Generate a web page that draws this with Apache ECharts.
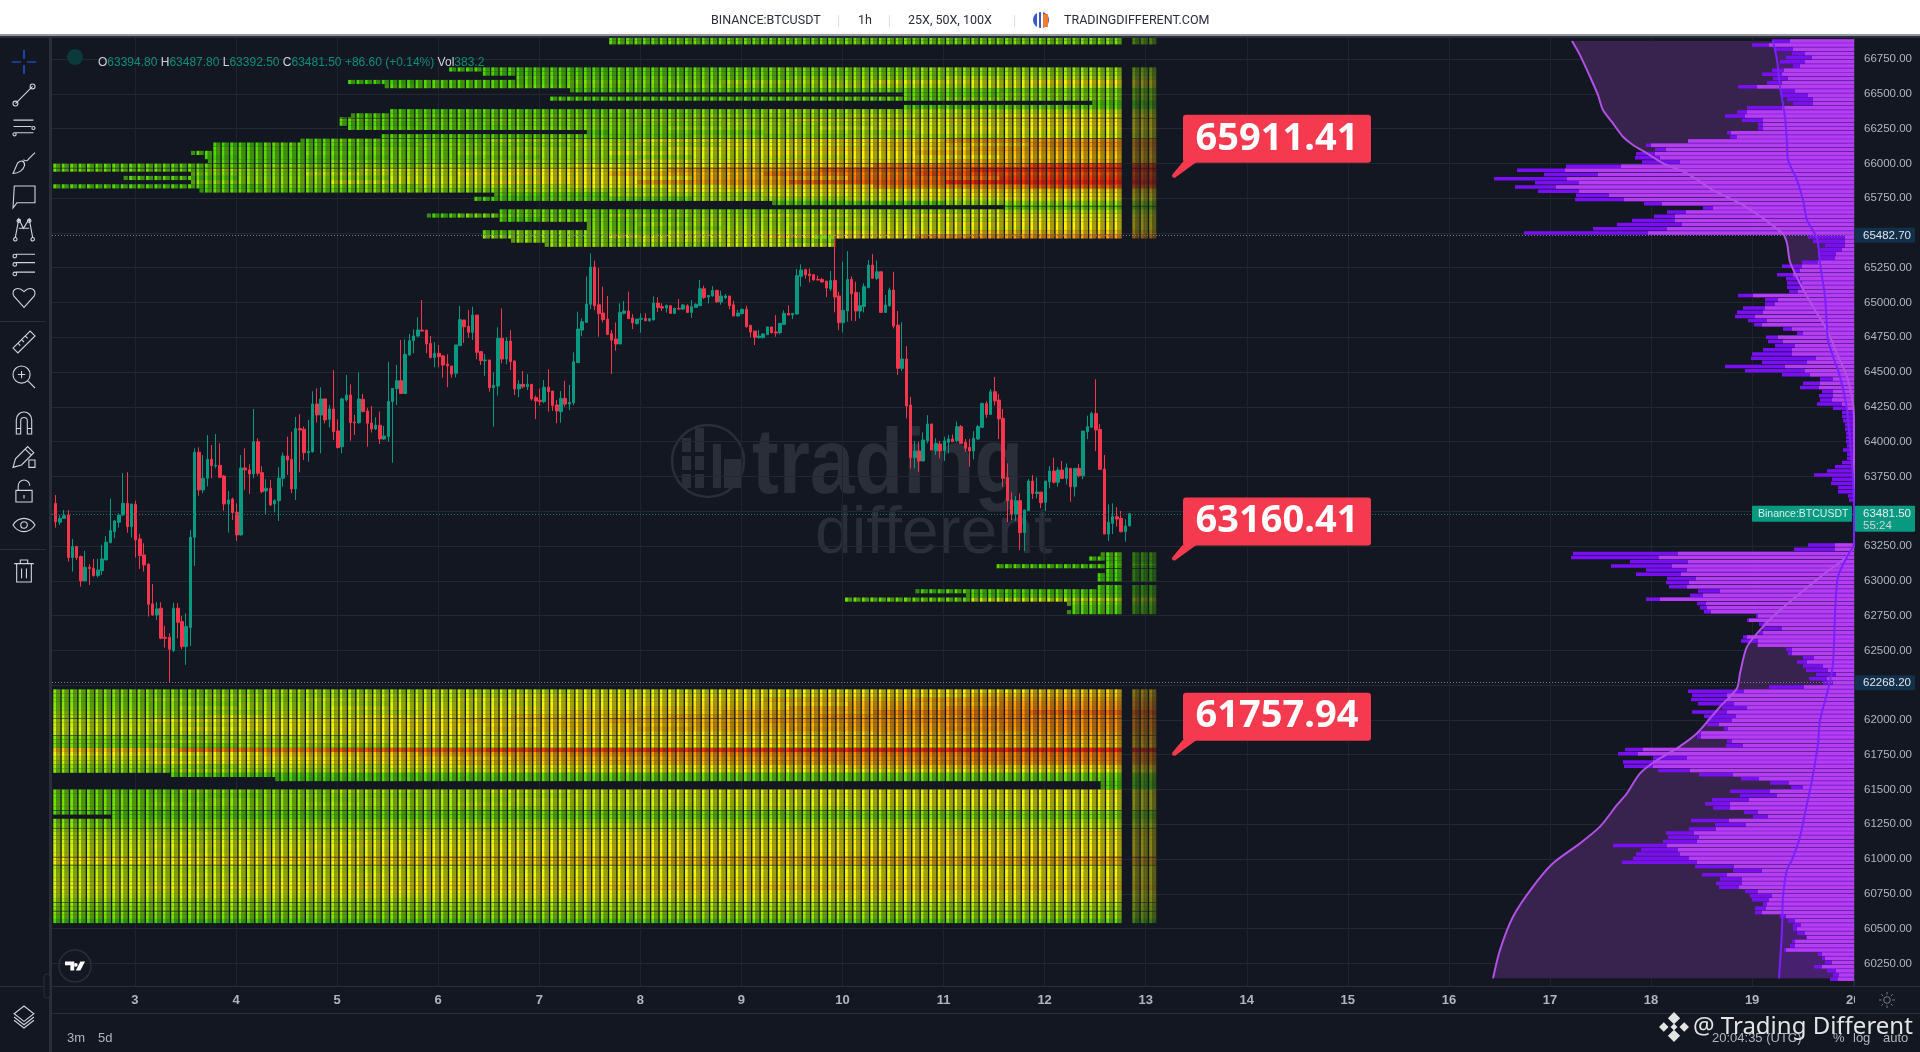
<!DOCTYPE html>
<html><head><meta charset="utf-8"><style>html,body{margin:0;padding:0;background:#131722;overflow:hidden}#c{width:1920px;height:1052px}</style>
<script src="https://cdn.jsdelivr.net/npm/echarts@6/dist/echarts.min.js"></script></head><body><div id="c"></div><script>
const firstBarDay=2.2154;
// hourly candles: [open, close, low, high]
const candles=[[63557,63425,63382,63617],[63421,63449,63401,63473],[63449,63468,63447,63509],[63473,63167,63138,63509],[63167,63246,63066,63301],[63246,63167,63150,63251],[63174,62999,62958,63181],[62999,63097,62999,63215],[63097,63088,62970,63119],[63090,63037,63030,63157],[63037,63078,63025,63157],[63073,63157,63042,63258],[63150,63277,63150,63322],[63274,63361,63270,63591],[63354,63430,63306,63437],[63421,63473,63382,63485],[63473,63557,63466,63773],[63557,63389,63346,63780],[63389,63552,63310,63552],[63550,63294,63167,63576],
[63301,63181,63085,63337],[63186,63114,63066,63270],[63119,62831,62743,63126],[62834,62755,62748,62978],[62755,62798,62719,62846],[62803,62587,62580,62846],[62594,62587,62520,62676],[62594,62508,62269,62623],[62499,62803,62487,62843],[62803,62702,62587,62839],[62707,62527,62508,62748],[62527,62671,62396,62767],[62664,63313,62532,63365],[63313,63924,63107,63952],[63924,63653,63612,63959],[63653,63737,63629,63904],[63737,63873,63677,64048],[63873,63828,63737,63976],[63825,63830,63809,64055],[63830,63744,63737,63988],
[63753,63552,63504,63761],[63552,63581,63346,63646],[63588,63490,63437,63598],[63492,63330,63286,63557],[63330,63811,63325,63904],[63811,63797,63653,63952],[63797,63768,63624,63837],[63768,64000,63737,64235],[64000,63773,63756,64024],[63777,63641,63629,63825],[63646,63665,63478,63730],[63665,63545,63538,63725],[63552,63576,63492,63586],[63576,63737,63430,63816],[63737,63897,63677,63921],[63897,63868,63761,64036],[63873,63660,63629,64072],[63660,64094,63581,64177],[64094,64084,63780,64197],[64089,63921,63868,64108],
[63921,63931,63856,64156],[63928,64271,63921,64362],[64271,64192,64137,64383],[64192,64307,63916,64391],[64307,64156,64132,64312],[64161,64235,64103,64264],[64235,64072,64012,64515],[64077,63957,63952,64161],[63964,64307,63916,64316],[64300,64335,64288,64479],[64335,64137,64007,64412],[64141,64134,64048,64192],[64137,64307,64127,64498],[64304,64216,64211,64343],[64221,64132,63964,64244],[64134,64091,64065,64256],[64091,64118,64084,64175],[64118,64019,63983,64216],[64019,64041,64012,64113],[64036,64288,64000,64573],
[64288,64383,63849,64383],[64381,64438,64264,64551],[64438,64347,64343,64731],[64347,64628,64343,64735],[64623,64726,64618,64774],[64726,64759,64635,64807],[64759,64802,64750,64894],[64802,64795,64791,65018],[64802,64702,64635,64802],[64707,64604,64599,64759],[64604,64635,64534,64716],[64635,64611,64534,64695],[64616,64551,64460,64623],[64558,64544,64391,64628],[64544,64486,64460,64544],[64491,64695,64462,64695],[64690,64877,64690,64975],[64874,64826,64711,64874],[64829,64786,64747,64946],[64786,64910,64731,64970],
[64910,64642,64592,64910],[64647,64582,64551,64652],[64582,64587,64472,64630],[64587,64388,64359,64587],[64388,64405,64108,64498],[64400,64743,64331,64822],[64743,64594,64563,64958],[64594,64723,64556,64750],[64723,64575,64515,64802],[64580,64379,64335,64582],[64379,64412,64319,64443],[64412,64395,64383,64508],[64395,64412,64371,64486],[64412,64307,64295,64414],[64316,64292,64163,64331],[64297,64288,64259,64383],[64288,64391,64276,64443],[64391,64359,64216,64520],[64364,64259,64221,64364],[64264,64221,64132,64300],
[64215,64311,64136,64364],[64311,64270,64251,64438],[64270,64282,64227,64407],[64280,64575,64263,64642],[64568,64809,64568,64934],[64802,64862,64759,64886],[64857,64989,64857,65188],[64987,65255,64953,65353],[65255,64977,64946,65301],[64984,64920,64754,65248],[64924,64877,64857,65114],[64881,64771,64766,65047],[64776,64730,64486,64802],[64738,64702,64654,64857],[64702,64929,64702,64994],[64922,64939,64915,65011],[64939,64884,64884,65078],[64889,64855,64809,64917],[64848,64881,64843,64881],[64879,64886,64783,64922],
[64886,64869,64867,64922],[64869,64884,64862,64886],[64874,64996,64874,65044],[64996,64965,64932,65039],[64970,64960,64939,64994],[64960,64980,64927,64984],[64977,64922,64922,64977],[64922,64958,64917,64963],[64958,64953,64948,65025],[64953,64982,64948,64989],[64977,64929,64924,64987],[64929,64970,64891,65018],[64965,64987,64963,64994],[64977,65099,64977,65162],[65099,65037,65025,65121],[65039,65051,64994,65054],[65047,65087,65042,65118],[65087,65004,64999,65092],[65004,65047,64984,65085],[65035,65047,65025,65061],
[65047,64977,64951,65047],[64984,64903,64903,65013],[64903,64924,64900,64948],[64920,64951,64915,64958],[64951,64826,64819,64977],[64836,64788,64750,64836],[64795,64750,64694,64795],[64747,64759,64742,64802],[64747,64774,64742,64778],[64769,64824,64766,64826],[64824,64783,64778,64826],[64788,64781,64754,64910],[64783,64850,64771,64850],[64843,64922,64838,64944],[64922,64910,64910,64980],[64910,64922,64881,64924],[64917,65193,64915,65241],[65188,65233,65114,65274],[65236,65198,65171,65243],[65205,65193,65145,65245],
[65200,65162,65157,65205],[65166,65162,65157,65193],[65166,65147,65145,65178],[65154,65104,65039,65154],[65099,65159,65083,65226],[65159,65039,64929,65478],[65047,64855,64802,65078],[64855,64944,64785,65293],[64939,65166,64862,65370],[65166,65063,64869,65188],[65073,64939,64867,65150],[64939,64977,64886,65073],[64972,65114,64929,65138],[65107,65269,65102,65305],[65269,65174,65169,65348],[65174,65221,65162,65301],[65221,64929,64929,65221],[64929,64982,64929,65054],[64977,65090,64970,65107],[65090,64831,64814,65221],
[64838,64527,64479,64939],[64527,64594,64508,64857],[64594,64256,64167,64687],[64263,63885,63808,64323],[63885,63933,63808,64005],[63933,63861,63784,64000],[63861,64012,63861,64067],[64007,64127,63988,64191],[64127,63940,63940,64127],[63935,63988,63904,64024],[63983,63933,63880,64005],[63935,64005,63861,64036],[63995,64019,63916,64048],[64019,64000,64000,64052],[64007,64108,63995,64144],[64108,63988,63988,64120],[63995,63952,63928,64019],[63959,63933,63820,64019],[63933,64024,63873,64076],[64019,64108,64012,64120],
[64103,64275,64103,64280],[64275,64196,64172,64292],[64196,64359,64191,64378],[64359,64292,64259,64465],[64299,64163,64019,64342],[64167,63736,63676,64235],[63743,63576,63420,63844],[63581,63480,63437,63636],[63478,63576,63430,63609],[63576,63346,63221,63628],[63346,63509,63214,63509],[63504,63717,63502,63731],[63717,63628,63588,63760],[63628,63638,63593,63743],[63638,63561,63521,63638],[63564,63717,63502,63717],[63712,63789,63664,63825],[63789,63708,63700,63885],[63708,63796,63676,63815],[63796,63736,63731,63861],
[63736,63813,63693,63844],[63808,63676,63569,63808],[63676,63808,63605,63808],[63808,63755,63743,63839],[63755,64076,63731,64076],[64072,64108,64019,64187],[64103,64203,64100,64215],[64203,64084,63933,64448],[64088,63801,63796,64127],[63803,63336,63336,63904],[63336,63420,63286,63549],[63413,63461,63336,63557],[63461,63444,63389,63530],[63449,63353,63348,63502],[63353,63394,63281,63442],[63394.8,63481.5,63392.5,63487.8]];

// liquidation heat rows: [price level, first day, last day, strength in seven stretches of the time span]
const heatRows=[
[66900,7.70,12.77,0,0,0,10,12,14,16],[66870,7.70,12.77,0,0,0,12,14,16,18],
[66675,6.13,12.77,0,0,5,8,12,18,24],[66645,6.45,12.77,0,0,6,10,14,20,26],[66615,6.77,12.77,0,0,8,12,16,24,34],[66585,5.12,12.77,0,5,10,18,30,42,54],[66555,5.49,12.77,0,5,10,15,24,32,40],[66525,7.31,12.77,0,0,5,8,10,12,15],[66495,10.60,12.77,0,0,0,0,0,12,22],[66465,7.12,12.77,0,0,5,8,10,14,22],[66435,12.48,12.77,0,0,0,0,0,0,8],[66405,10.61,12.77,0,0,0,0,0,8,12],[66375,5.53,12.77,0,5,8,12,18,26,35],[66345,5.16,12.77,0,8,12,16,24,34,45],[66315,5.03,12.77,0,8,14,22,30,42,55],[66285,5.03,12.77,0,8,14,20,30,42,55],[66255,5.12,12.77,0,8,12,18,28,40,52],[66225,7.48,12.77,0,0,0,8,16,28,42],[66195,5.44,12.77,0,6,10,14,22,32,42],[66165,4.65,12.77,0,8,15,28,42,56,70],[66135,3.78,12.77,5,12,20,32,46,60,72],[66105,3.78,12.77,5,10,18,28,44,58,68],[66075,3.57,12.77,5,10,16,26,40,54,65],[66045,3.70,12.77,5,10,16,24,38,50,62],[66015,3.74,12.77,5,10,18,28,42,56,65],[65985,2.18,12.77,12,20,30,44,60,76,90],[65955,2.18,12.77,14,24,40,52,68,84,97],[65925,3.58,12.77,10,20,34,50,64,78,88],[65895,2.90,12.77,10,22,38,50,66,80,93],[65865,3.58,12.77,12,24,40,54,70,84,99],[65835,2.18,12.77,8,18,30,44,60,74,86],[65805,3.64,12.77,6,12,20,30,44,52,60],[65775,6.57,12.77,0,0,6,12,30,44,55],[65745,6.36,12.77,0,0,6,12,28,40,50],[65715,9.32,12.77,0,0,0,0,8,10,25],[65685,11.61,12.77,0,0,0,0,0,8,15],[65655,6.61,12.77,0,0,6,14,20,28,35],[65625,5.91,12.77,0,0,6,16,26,36,46],[65595,6.61,12.77,0,0,8,18,28,38,48],[65565,7.50,12.77,0,0,0,16,28,40,54],[65535,7.50,12.77,0,0,0,18,30,42,54],[65505,6.45,12.77,0,0,10,22,36,50,62],[65475,6.45,12.77,0,0,10,24,40,56,72],[65472,9.73,9.90,0,0,0,0,18,0,0],[65445,6.74,9.90,0,0,0,22,34,0,0],[65415,7.08,9.90,0,0,0,24,38,0,0],
[63190,12.57,12.77,0,0,0,0,0,0,10],[63160,12.44,12.77,0,0,0,0,0,0,8],[63130,12.61,12.77,0,0,0,0,0,0,8],[63105,11.53,12.77,0,0,0,0,0,4,8],[63070,12.61,12.77,0,0,0,0,0,0,6],[63040,12.52,12.77,0,0,0,0,0,0,6],[63010,12.52,12.77,0,0,0,0,0,0,6],[62955,12.52,12.77,0,0,0,0,0,0,6],[62925,10.74,12.77,0,0,0,0,0,5,8],[62895,11.23,12.77,0,0,0,0,0,6,10],[62865,10.03,12.77,0,0,0,0,0,14,34],[62835,12.24,12.77,0,0,0,0,0,0,16],[62805,12.28,12.77,0,0,0,0,0,0,10],[62775,12.24,12.77,0,0,0,0,0,0,8],
[62205,2.18,12.77,20,28,35,42,48,54,60],[62175,2.18,12.77,20,28,36,44,50,56,62],[62145,2.18,12.77,18,26,36,46,54,62,68],[62115,2.18,12.77,20,30,40,50,58,66,72],[62085,2.18,12.77,22,32,42,52,60,68,74],[62055,2.18,12.77,26,36,48,58,66,76,84],[62025,2.18,12.77,30,40,50,60,66,72,76],[61995,2.18,12.77,36,46,52,60,66,72,76],[61965,2.18,12.77,36,46,54,60,66,70,74],[61935,2.18,12.77,38,48,54,60,66,70,74],[61905,2.18,12.77,36,44,50,56,60,66,70],[61875,2.18,12.77,22,34,44,52,56,62,66],[61845,2.18,12.77,18,30,42,50,54,60,64],[61815,2.18,12.77,16,28,40,48,52,58,62],[61785,2.18,12.77,62,78,86,92,95,98,99],[61755,2.18,12.77,50,62,70,74,76,78,80],[61725,2.18,12.77,36,50,58,64,68,72,76],[61695,2.18,12.77,34,48,56,62,66,70,74],[61665,2.18,12.77,24,36,44,50,54,60,58],[61635,2.18,12.77,20,30,38,44,46,48,48],[61605,3.37,12.77,0,8,12,14,14,16,16],[61575,4.40,12.77,0,6,10,12,14,14,14],[61545,12.57,12.77,0,0,0,0,0,0,10],[61515,12.57,12.77,0,0,0,0,0,0,10],[61485,2.18,12.77,14,22,30,38,44,48,50],[61455,2.18,12.77,16,24,30,38,42,46,48],[61425,2.18,12.77,16,22,28,36,40,44,46],[61395,2.18,12.77,16,24,30,36,40,44,46],[61365,2.18,12.77,16,22,26,32,36,40,44],[61335,2.18,12.77,10,12,14,16,18,20,20],[61305,2.78,12.77,10,12,14,16,18,18,18],[61275,2.18,12.77,18,22,24,26,28,30,30],[61245,2.18,12.77,22,26,30,34,36,38,38],[61215,2.18,12.77,26,30,34,38,40,42,42],[61185,2.18,12.77,34,40,46,50,52,54,58],[61155,2.18,12.77,34,38,42,46,48,50,50],[61125,2.18,12.77,36,40,44,48,50,52,52],[61095,2.18,12.77,38,42,46,50,52,52,54],[61065,2.18,12.77,38,42,46,50,50,52,52],[61035,2.18,12.77,40,44,48,50,52,54,54],[61005,2.18,12.77,54,58,60,62,64,65,66],[60975,2.18,12.77,50,54,58,60,62,64,64],[60945,2.18,12.77,32,36,40,42,44,44,46],[60915,2.18,12.77,34,38,42,44,46,48,48],[60885,2.18,12.77,36,40,44,46,48,50,50],[60855,2.18,12.77,38,42,48,50,50,52,52],[60825,2.18,12.77,40,46,52,54,56,56,56],[60795,2.18,12.77,42,48,54,56,58,60,60],[60765,2.18,12.77,38,42,46,48,50,50,50],[60735,2.18,12.77,34,38,40,42,44,44,44],[60705,2.18,12.77,28,32,36,38,40,42,42],[60675,2.18,12.77,24,26,28,30,32,32,34],[60645,2.18,12.77,20,24,26,28,30,30,30],[60615,2.18,12.77,20,22,24,26,28,28,28],[60585,2.18,12.77,16,18,20,22,24,24,26],[60555,2.18,12.77,6,8,10,10,12,12,12]];
const heatGapPrices=[66326,66182,66003,65967,65694,62014,61892,61353,61224,61015,60958,60692,60627];

// volume profile, upper and lower stacks: total and inner length of each row, top row first
const profileUpperTop=66880, profileLowerTop=63257;
const upperTotal=[82,102,79,62,68,74,61,82,92,81,87,116,74,72,67,61,107,117,129,112,96,96,127,124,166,208,199,218,219,212,288,337,310,360,319,339,316,278,279,210,151,187,200,222,237,261,330,46,41,29,34,34,34,52,72,61,77,68,67,67,65,116,89,89,111,117,119,106,100,71,57,88,86,79,91,102,103,92,129,109,72,34,51,54,32,35,34,37,21,12,12,11,9,9,8,8,8,7,11,7,7,12,19,27,40,22,23,16,16,6,5];
const upperInner=[64,85,61,49,42,49,54,70,72,66,72,97,59,46,41,41,72,107,109,91,91,91,123,117,166,203,188,199,194,174,233,289,256,287,275,298,275,245,230,192,141,168,179,179,172,187,206,9,9,9,12,18,19,36,52,54,61,54,52,52,56,101,76,79,89,91,99,87,92,62,51,76,71,59,62,62,38,47,69,49,44,21,34,35,21,21,22,12,7,1,1,0,0,0,0,0,0,0,0,0,0,0,0,0,0,0,0,0,0,0,0];
const lowerTotal=[46,60,281,283,224,243,208,218,187,188,185,156,164,208,157,154,150,98,107,95,91,95,111,113,97,68,66,51,57,51,48,38,45,31,85,166,162,163,156,132,162,150,147,147,130,157,157,127,128,229,236,201,231,230,196,155,113,84,63,124,114,142,149,141,110,101,163,139,165,188,186,191,241,213,218,221,232,159,121,152,134,138,135,109,104,102,91,99,99,74,66,61,61,57,48,62,64,70,36,32,29,40,27,21,24];
const lowerInner=[19,19,176,195,166,182,167,173,158,165,167,134,151,194,148,147,143,96,105,90,72,91,107,96,96,62,62,40,47,31,26,18,27,21,50,110,127,127,120,107,127,118,122,135,126,153,153,122,111,211,216,167,201,201,164,121,95,65,51,84,77,105,124,124,96,86,125,108,138,160,155,157,187,176,174,165,157,120,92,127,112,112,115,96,82,85,87,88,92,68,59,53,57,49,47,59,59,68,32,29,22,32,18,15,16];
// profile curves: [length, price]
const curveOuter=[[282,66879],[274,66778],[264,66623],[256,66491],[251,66383],[241,66287],[231,66191],[221,66132],[207,66072],[191,66000],[167,65928],[141,65808],[114,65712],[91,65605],[71,65492],[67,65425],[64,65293],[54,65137],[41,64970],[27,64802],[17,64634],[7,64467],[1,64275],[0,64131],[0,63257],[11,63149],[27,63066],[54,62910],[74,62790],[91,62670],[107,62527],[114,62335],[117,62227],[134,62095],[157,61904],[177,61796],[197,61712],[214,61616],[227,61473],[237,61389],[254,61233],[274,61113],[301,60970],[321,60802],[341,60586],[354,60347],[361,60143]];
const curveInner=[[81,66879],[77,66742],[74,66551],[69,66335],[67,66144],[66,66024],[57,65880],[51,65736],[47,65593],[37,65461],[34,65281],[29,65042],[26,64730],[22,64634],[14,64467],[7,64227],[0,63533],[0,63269],[7,63173],[16,63030],[19,62766],[21,62407],[26,62215],[34,62000],[36,61832],[42,61568],[49,61329],[54,61161],[62,60994],[67,60922],[71,60730],[72,60490],[75,60143]];

const dayTicks=[3,4,5,6,7,8,9,10,11,12,13,14,15,16,17,18,19,20];
const priceLabels=[66750,66500,66250,66000,65750,65250,65000,64750,64500,64250,64000,63750,63250,63000,62750,62500,62000,61750,61500,61250,61000,60750,60500,60250];
const priceGrid=[66750,66500,66250,66000,65750,65500,65250,65000,64750,64500,64250,64000,63750,63500,63250,63000,62750,62500,62250,62000,61750,61500,61250,61000,60750,60500,60250];
const calloutPrices=[65911.41,63160.41,61757.94];
const calloutDay=13.28;
const rangeHigh=65482.70, rangeLow=62268.20, lastPrice=63481.50;
const legendText='{k|O}{v|63394.80} {k|H}{v|63487.80} {k|L}{v|63392.50} {k|C}{v|63481.50} {v|+86.60 (+0.14%)} {k|Vol}{v|383.2}';

const X0=2.179,X1=20.008,HEAT_END=12.77,BUCKET=30;
const STOPS=[[0,[45,205,0]],[15,[110,225,0]],[30,[175,240,0]],[45,[238,248,0]],[55,[255,238,0]],[68,[255,175,0]],[82,[255,110,0]],[100,[250,30,5]]];
function heatColor(v){
  for(let i=1;i<STOPS.length;i++){ if(v<=STOPS[i][0]){const a=STOPS[i-1],b=STOPS[i],t=(v-a[0])/(b[0]-a[0]);
    return 'rgb('+[0,1,2].map(j=>Math.round(a[1][j]+(b[1][j]-a[1][j])*t)).join(',')+')';}}
  return 'rgb(250,30,5)';
}
const segW=(HEAT_END-X0)/7;
const heatCells=[];
heatRows.forEach((r,ri)=>{
  const [p,s,e]=r,vals=r.slice(3);
  const stagger=((ri*7)%5-2)*0.28;
  for(let k=0;;k++){const d=X0+k/24; if(d+1/24>HEAT_END+1e-6)break; if(d+1/24<=s||d>=e)continue;
    const seg=Math.max(0,Math.min(6,Math.floor((d-X0+stagger)/segW))); let v=vals[seg];
    if(!v){v=vals.find(x=>x>0)||5;}
    heatCells.push([d,d+1/24,p,v,k%2,1]);}
  if(e>=HEAT_END){const strip=12.855; const v=vals[6]; for(let k=0;k<6;k++){const d=strip+k/24; heatCells.push([d,d+1/24,p,v,k%2,0.5]);}}
});
const heatGapLines=heatGapPrices.map(p=>[{coord:[X0,p]},{coord:[13.1,p]}]);
const candleData=candles.map((c,i)=>[firstBarDay+i/24,c[0],c[1],c[2],c[3]]);
const profileUpper=upperTotal.map((t,i)=>[t,upperInner[i],profileUpperTop-BUCKET*i]);
const profileLower=lowerTotal.map((t,i)=>[t,lowerInner[i],profileLowerTop-BUCKET*i]);
const profileRows=profileUpper.concat(profileLower);

function areaSeries(curve,color){return {type:'custom',xAxisIndex:1,z:1,silent:true,data:curve,encode:{x:0,y:1},clip:true,
  renderItem(params,api){ if(params.dataIndex!==0)return null;
    const pts=curve.map(d=>api.coord(d)); pts.push(api.coord([0,curve[curve.length-1][1]]),api.coord([0,curve[0][1]]));
    return {type:'polygon',shape:{points:pts},style:{fill:color}}; }};}
const TXT='#b2b5be';
const chart=echarts.init(document.getElementById('c'),null,{renderer:'canvas'});
const axisFont='"Liberation Sans",sans-serif';
const g=[],icons=[];
function rect(x,y,w,h,fill,z,extra){g.push(Object.assign({type:'rect',shape:{x,y,width:w,height:h},style:{fill},z:z==null?50:z,silent:true},extra||{}));}
function text(x,y,t,font,fill,align,z,extra){g.push(Object.assign({type:'text',x,y,z:z==null?60:z,silent:true,style:{text:t,font,fill,textAlign:align||'left',textVerticalAlign:'middle'}},extra||{}));}
function icon(cx,cy,d,size,stroke,fill,lw){icons.push({type:'path',shape:{pathData:d,x:cx-size/2,y:cy-size/2,width:size,height:size,layout:'center'},style:{fill:fill||'none',stroke:stroke||'none',lineWidth:lw||1}});}
// watermark
const WM='#2a2e39';
g.push({type:'circle',z:0,silent:true,shape:{cx:708,cy:461,r:36},style:{fill:'none',stroke:WM,lineWidth:2.5}});
[[682,438,9,14],[695,428,9,24],[682,456,9,14],[695,456,9,14],[682,474,9,14],[695,474,9,14],[713,444,8,44],[724,459,17,29]].forEach(a=>rect(a[0],a[1],a[2],a[3],WM,0));
text(752,468,'trading','bold 92px "Liberation Sans",sans-serif',WM,'left',0,{scaleX:0.87});
text(815,535,'different','66px "Liberation Sans",sans-serif',WM,'left',0,{scaleX:1});
// chrome
rect(0,0,1920,34,'#ffffff',80);rect(0,34,1920,2,'#9598a1',80);rect(0,36,1920,2,'#2a2e39',80);
rect(49,38,3,1014,'#2a2e39',80);
rect(1855,988,65,24,'#131722',55);
rect(52,986,1868,1,'#2a2e39',80);rect(52,1013,1868,1,'#2a2e39',80);
rect(0,321,46,1,'#2a2e39',80);rect(0,549,46,1,'#2a2e39',80);rect(0,986,46,1,'#2a2e39',80);
const HF='12.5px Roboto,sans-serif';
text(711,21,'BINANCE:BTCUSDT',HF,'#2a2e39','left',90);text(858,21,'1h',HF,'#2a2e39','left',90);text(908,21,'25X, 50X, 100X',HF,'#2a2e39','left',90);text(1064,21,'TRADINGDIFFERENT.COM',HF,'#2a2e39','left',90);
[838,889,1014].forEach(x=>rect(x,15,1,12,'#f7d8dc',90));
g.push({type:'circle',z:90,silent:true,shape:{cx:1041,cy:20,r:8},style:{fill:'#3a55c8'}});
rect(1041,14,7,13,'#ef7d2d',91);rect(1037,12,2,16,'#ffffff',92);rect(1041,12,2,16,'#ffffff',92);
// legend
g.push({type:'circle',z:30,silent:true,shape:{cx:75,cy:57,r:8},style:{fill:'#0b3a3c'}});
g.push({type:'text',x:98,y:63,z:60,silent:true,style:{text:legendText,font:'12px "Liberation Sans",sans-serif',fill:'#089981',textVerticalAlign:'middle',rich:{k:{fill:'#d1d4dc',font:'12px "Liberation Sans",sans-serif'},v:{fill:'#0b8f7a',font:'12px "Liberation Sans",sans-serif'}}}});
// toolbar icons
const S='#d1d4dc';
const tools=[[95,'M5 19L19 5M3 19a2 2 0 1 0 4 0a2 2 0 1 0-4 0M17 5a2 2 0 1 0 4 0a2 2 0 1 0-4 0'],[128,'M2 5H21M2 11H19M3 17H21M21 11a1.5 1.5 0 1 0 .01 0M3 17a1.5 1.5 0 1 0 .01 0'],[163,'M2 21L6 12C9 9 12 10 12 14C11 18 7 21 2 21ZM11 9C13 11 15 10 16 8L21 3'],[197,'M5 4H21V17H7L4 21Z'],[230,'M5 20L8 4L12 12L17 4L20 20M8 12H17M8 4a1.5 1.5 0 1 0 .01 0M17 4a1.5 1.5 0 1 0 .01 0M5 20a1.5 1.5 0 1 0 .01 0M20 20a1.5 1.5 0 1 0 .01 0'],[265,'M5 4H21M5 11H21M5 19H21M4 4a1.5 1.5 0 1 0 .01 0M4 11a1.5 1.5 0 1 0 .01 0M4 19a1.5 1.5 0 1 0 .01 0'],[298,'M12 21L3 11C0 6 6 1 12 7C18 1 24 6 21 11Z'],[342,'M3 17L17 3L21 7L7 21ZM7 13L9 15M10 10L12 12M13 7L15 9'],[377,'M10 3a7 7 0 1 0 .01 0M15 15L21 21M7 10H13M10 7V13'],[423,'M5 12V8a7 7 0 0 1 14 0V12V21H15V9a3 3 0 0 0-6 0V21H5ZM5 16H9M15 16H19'],[457,'M3 21L5 14L15 4L20 9L10 19ZM13 6L18 11M16 15H21V21H16Z'],[491,'M7 11V7a5 5 0 0 1 10 0M5 11H19V21H5ZM12 15V18'],[525,'M2 12C7 4 17 4 22 12C17 20 7 20 2 12ZM12 9a3 3 0 1 0 .01 0'],[571,'M4 6H20M9 6V3H15V6M6 6V21H18V6M10 10V18M14 10V18'],[1017,'M12 3L21 10L12 17L3 10ZM3 13L12 20L21 13M3 16L12 23L21 16']];
tools.forEach(t=>icon(24,t[0],t[1],22,S,'none',1.1));
icon(24,62,'M12 1V9M12 15V23M1 12H9M15 12H23',24,'#2962ff','none',1.2);
// bottom chrome
g.push({type:'circle',z:60,silent:true,shape:{cx:75,cy:966,r:16},style:{fill:'none',stroke:'#2a2e39',lineWidth:1.5}});
icon(75,966,'M1 3H13V15H8V8H1ZM21 3H27L21 15H15ZM15 5a2.5 2.5 0 1 0 .01 0',20,null,'#ffffff',0);
g.push({type:'rect',z:80,silent:true,shape:{x:44,y:974,width:6,height:24,r:3},style:{fill:'#131722',stroke:'#2a2e39',lineWidth:1}});
const BF='13px "Liberation Sans",sans-serif';
text(67,1038,'3m',BF,TXT);text(98,1038,'5d',BF,TXT);
text(1712,1038,'20:04:35 (UTC)',BF,TXT);text(1833,1038,'%',BF,TXT);text(1853,1038,'log',BF,TXT);text(1883,1038,'auto',BF,TXT);
icon(1887,1000,'M12 7a5 5 0 1 0 .01 0M12 0V4M12 20V24M0 12H4M20 12H24M3.5 3.5L6.3 6.3M17.7 17.7L20.5 20.5M3.5 20.5L6.3 17.7M17.7 6.3L20.5 3.5',16,'#787b86','none',1);
icon(1674,1027,'M12 1L16.5 5.5L12 10L7.5 5.5ZM12 14L16.5 18.5L12 23L7.5 18.5ZM1 12L4.5 8.5L8 12L4.5 15.5ZM16 12L19.5 8.5L23 12L19.5 15.5ZM12 9.5L14.5 12L12 14.5L9.5 12Z',30,null,'#e4e4e4',0);
text(1693,1027,'@ Trading Different','24px "Noto Sans",sans-serif','#e4e4e4','left',90);

const option={
  animation:false,backgroundColor:'#131722',
  grid:{left:52,right:66,top:38,height:948,containLabel:false},
  xAxis:[{type:'value',min:X0,max:X1,position:'bottom',
      axisLine:{show:false},axisTick:{show:false,customValues:dayTicks},
      axisLabel:{customValues:dayTicks,color:TXT,margin:8,fontFamily:axisFont,fontSize:13,fontWeight:'bold',formatter:v=>String(Math.round(v))},
      splitLine:{show:true,lineStyle:{color:'#1f232d',width:1}}},
    {type:'value',inverse:true,min:0,max:1802,show:false,splitLine:{show:false}}],
  yAxis:{type:'value',min:60088,max:66901,position:'right',
      axisLine:{show:true,lineStyle:{color:'#2a2e39'}},axisTick:{show:false,customValues:priceGrid},
      axisLabel:{customValues:priceLabels,color:TXT,margin:10,fontFamily:axisFont,fontSize:11.5,align:'left',formatter:v=>v.toFixed(2)},
      splitLine:{show:true,lineStyle:{color:'#23272f',width:1}}},
  graphic:{elements:g},
  series:[
    areaSeries(curveOuter,'#38224e'),
    areaSeries(curveInner,'#47206f'),
    {type:'custom',name:'liquidation',xAxisIndex:0,z:2,silent:true,clip:true,data:heatCells,encode:{x:[0,1],y:2},
      markLine:{silent:true,symbol:'none',label:{show:false},lineStyle:{color:'#131722',width:0.8,type:'solid',opacity:0.6},data:heatGapLines},
      renderItem(params,api){
        const a=api.coord([api.value(0),api.value(2)+BUCKET/2]),b=api.coord([api.value(1),api.value(2)-BUCKET/2]);
        const odd=api.value(4)===1,al=api.value(5);
        const x=a[0]+(odd?0:1.3),w=b[0]-a[0]-(odd?0:1.3);
        return {type:'rect',shape:{x,y:a[1],width:w,height:b[1]-a[1]},style:{fill:heatColor(api.value(3)),opacity:(odd?0.62:1)*al}};
      }},
    {type:'custom',name:'profile',xAxisIndex:1,z:2,silent:true,clip:true,data:profileRows,encode:{x:0,y:2},
      renderItem(params,api){
        const p=api.value(2),t=api.value(0),n=api.value(1);
        const a=api.coord([t,p]),r=api.coord([0,p]),m=api.coord([n,p]);
        const children=[{type:'rect',shape:{x:a[0],y:a[1]-1.75,width:r[0]-a[0],height:3.5},style:{fill:'#7a0ff5'}}];
        if(n>0)children.push({type:'rect',shape:{x:m[0],y:m[1]-1.75,width:r[0]-m[0],height:3.5},style:{fill:'#b53ef0'}});
        return {type:'group',children};
      }},
    {type:'line',name:'outer',xAxisIndex:1,z:4,silent:true,data:curveOuter,showSymbol:false,smooth:0.25,lineStyle:{color:'#b24fe6',width:2}},
    {type:'line',name:'inner',xAxisIndex:1,z:4,silent:true,data:curveInner,showSymbol:false,smooth:0.25,lineStyle:{color:'#7b1fff',width:2}},
    {type:'candlestick',name:'BTCUSDT',xAxisIndex:0,z:3,silent:true,data:candleData,encode:{x:0,y:[1,2,3,4]},barWidth:3,
      itemStyle:{color:'#089981',color0:'#f5354b',borderColor:'#089981',borderColor0:'#f5354b',borderWidth:1},
      markLine:{silent:true,symbol:'none',label:{show:false},animation:false,data:[
        {yAxis:rangeHigh,lineStyle:{color:'#787b86',type:[1,2],width:1}},
        {yAxis:rangeLow,lineStyle:{color:'#787b86',type:[1,2],width:1}},
        {yAxis:lastPrice,lineStyle:{color:'#0b7a69',type:[1,2],width:1}}]}},
    {type:'custom',name:'callouts',xAxisIndex:0,z:6,silent:true,clip:false,data:calloutPrices.map(p=>[calloutDay,p]),encode:{x:0,y:1},
      renderItem(params,api){
        const t=api.coord([api.value(0),api.value(1)]),x=t[0],y=t[1],R='#f5394e';
        return {type:'group',children:[
          {type:'circle',shape:{cx:x,cy:y,r:2},style:{fill:R}},
          {type:'polygon',shape:{points:[[x-1,y-2],[x+9,y-14],[x+23,y-14],[x+1,y+2]]},style:{fill:R}},
          {type:'rect',shape:{x:x+9,y:y-61,width:188,height:48,r:3},style:{fill:R}},
          {type:'text',style:{x:x+103,y:y-37,text:api.value(1).toFixed(2),fill:'#ffffff',font:'bold 38px "Noto Sans",sans-serif',align:'center',verticalAlign:'middle'}}
        ]};
      }},
    {type:'custom',name:'tags',xAxisIndex:1,z:7,silent:true,clip:false,data:[[rangeHigh,0],[rangeLow,0],[lastPrice,1]],encode:{x:1,y:0},
      renderItem(params,api){
        const p=api.value(0),last=api.value(1)===1,pt=api.coord([0,p]),x=pt[0]+1,y=pt[1];
        const F='11.5px "Liberation Sans",sans-serif',ch=[];
        if(last){
          ch.push({type:'rect',shape:{x,y:y-8,width:60,height:26,r:1},style:{fill:'#089981'}});
          ch.push({type:'text',style:{x:x+8,y,text:p.toFixed(2),fill:'#e8eaed',font:F,verticalAlign:'middle'}});
          ch.push({type:'text',style:{x:x+8,y:y+12,text:'55:24',fill:'#d1d4dc',font:F,verticalAlign:'middle'}});
          ch.push({type:'rect',shape:{x:x-103,y:y-8,width:100,height:16,r:1},style:{fill:'#089981'}});
          ch.push({type:'text',style:{x:x-97,y,text:'Binance:BTCUSDT',fill:'#d5efe9',font:'10.5px "Liberation Sans",sans-serif',verticalAlign:'middle'}});
        }else{
          ch.push({type:'rect',shape:{x,y:y-7.5,width:60,height:15,r:1},style:{fill:'#12304a'}});
          ch.push({type:'text',style:{x:x+8,y,text:p.toFixed(2),fill:'#e0e3eb',font:F,verticalAlign:'middle'}});
        }
        return {type:'group',children:ch};
      }},
    {type:'custom',name:'chrome icons',coordinateSystem:'none',z:90,silent:true,clip:false,data:[0],
      renderItem(){return {type:'group',children:icons};}}
  ]
};
chart.setOption(option);
</script></body></html>
